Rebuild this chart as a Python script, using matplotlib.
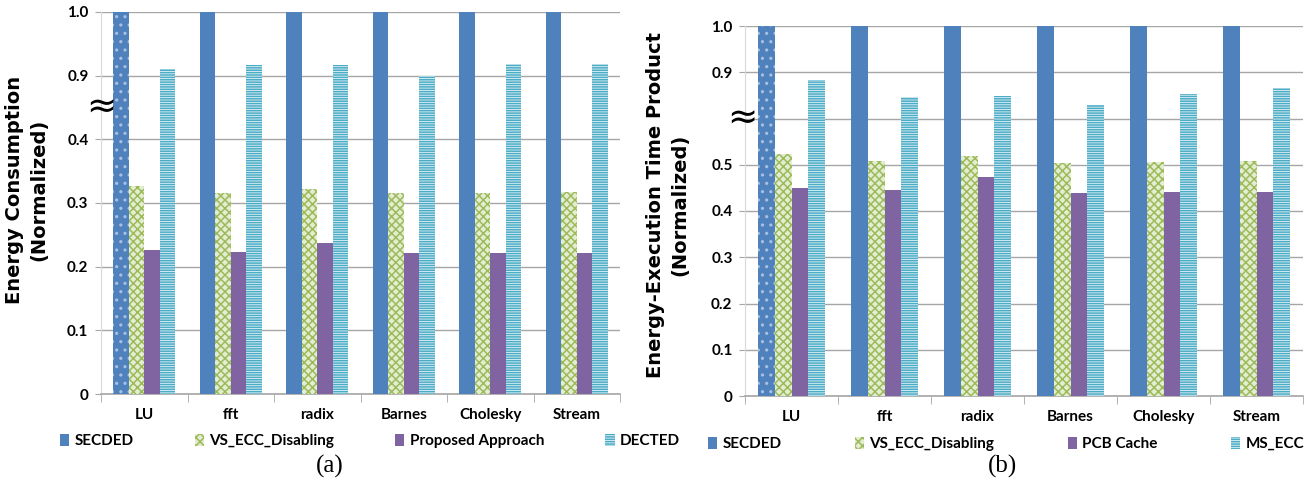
import numpy as np
import matplotlib
matplotlib.use("Agg")
import matplotlib.pyplot as plt
from matplotlib.patches import Patch

categories = ["LU", "fft", "radix", "Barnes", "Cholesky", "Stream"]

# Panel (a): Energy Consumption (Normalized)
a_secded = [1.0, 1.0, 1.0, 1.0, 1.0, 1.0]
a_vs_ecc = [0.326, 0.316, 0.322, 0.315, 0.316, 0.317]
a_proposed = [0.226, 0.223, 0.237, 0.221, 0.222, 0.222]
a_dected = [0.911, 0.916, 0.916, 0.900, 0.919, 0.919]
a_series_names = ["SECDED", "VS_ECC_Disabling", "Proposed Approach", "DECTED"]
a_yticks = [0, 0.1, 0.2, 0.3, 0.4, 0.9, 1.0]
a_yticklabels = ["0", "0.1", "0.2", "0.3", "0.4", "0.9", "1.0"]

# Panel (b): Energy-Execution Time Product (Normalized)
b_secded = [1.0, 1.0, 1.0, 1.0, 1.0, 1.0]
b_vs_ecc = [0.523, 0.508, 0.519, 0.504, 0.505, 0.508]
b_pcb = [0.450, 0.446, 0.473, 0.440, 0.442, 0.442]
b_ms_ecc = [0.883, 0.846, 0.849, 0.829, 0.853, 0.865]
b_series_names = ["SECDED", "VS_ECC_Disabling", "PCB Cache", "MS_ECC"]
b_yticks = [0, 0.1, 0.2, 0.3, 0.4, 0.5, 0.6, 0.9, 1.0]
b_yticklabels = ["0", "0.1", "0.2", "0.3", "0.4", "0.5", "", "0.9", "1.0"]

BLUE = "#4F81BD"
GREEN = "#9BBB59"
GREEN_FACE = "#e4edd2"
PURPLE = "#8064A2"
CYAN = "#4BACC6"
CYAN_FACE = "#e3f2f7"
GRID = "#a6a6a6"

plt.rcParams["hatch.linewidth"] = 1.1
FONT = "Lato"


def fwd_a(v):
    v = np.asarray(v, float)
    return np.where(v <= 0.4, v, np.where(v >= 0.8, v - 0.4, 0.4))


def inv_a(p):
    p = np.asarray(p, float)
    return np.where(p <= 0.4, p, p + 0.4)


def fwd_b(v):
    v = np.asarray(v, float)
    return np.where(v <= 0.6, v, np.where(v >= 0.8, v - 0.2, 0.6))


def inv_b(p):
    p = np.asarray(p, float)
    return np.where(p <= 0.6, p, p + 0.2)


fig = plt.figure(figsize=(13.07, 4.84), dpi=100)
ax_a = fig.add_axes([101 / 1307, 1 - 394 / 484, 519 / 1307, 382 / 484])
ax_b = fig.add_axes([745 / 1307, 1 - 396 / 484, 558 / 1307, 370 / 484])


def draw_panel(ax, series, fwd, inv, yticks, yticklabels):
    x = np.arange(len(categories))
    w = 0.18
    styles = [
        dict(facecolor=BLUE, edgecolor=BLUE, hatch=None),
        dict(facecolor=GREEN_FACE, edgecolor=GREEN, hatch="xxxx"),
        dict(facecolor=PURPLE, edgecolor=PURPLE, hatch=None),
        dict(facecolor=CYAN_FACE, edgecolor=CYAN, hatch="-------"),
    ]
    ax.set_yscale("function", functions=(fwd, inv))
    for i, (vals, st) in enumerate(zip(series, styles)):
        bars = ax.bar(x + (i - 1.5) * w, vals, width=w, facecolor=st["facecolor"],
                      edgecolor=st["edgecolor"], hatch=st["hatch"], linewidth=0,
                      zorder=3)
        if i == 0:
            bars.patches[0].set_hatch("..")
            bars.patches[0].set_edgecolor("#a9c0e2")
    ax.set_xlim(-0.5, len(categories) - 0.5)
    ax.set_ylim(0, 1.0)
    ax.set_yticks(yticks)
    ax.set_yticklabels(yticklabels, fontfamily=FONT, fontweight="bold", fontsize=11)
    ax.set_xticks(x)
    ax.set_xticklabels(categories, fontfamily=FONT, fontweight="bold", fontsize=11)
    ax.set_xticks(np.arange(-0.5, len(categories)), minor=True)
    ax.tick_params(axis="x", which="major", length=0, pad=10)
    ax.tick_params(axis="x", which="minor", length=6, color=GRID, direction="out")
    ax.tick_params(axis="y", length=4, color=GRID, pad=5)
    ax.yaxis.grid(True, color=GRID, linewidth=1.0, zorder=0)
    ax.set_axisbelow(True)
    for s in ["top", "right"]:
        ax.spines[s].set_visible(False)
    ax.spines["left"].set_color("#d9d9d9")
    ax.spines["bottom"].set_color(GRID)
    ax.spines["bottom"].set_linewidth(1.2)

    handles = [
        Patch(facecolor=BLUE, edgecolor=BLUE, linewidth=0),
        Patch(facecolor=GREEN_FACE, edgecolor=GREEN, hatch="xxxx", linewidth=0),
        Patch(facecolor=PURPLE, edgecolor=PURPLE, linewidth=0),
        Patch(facecolor=CYAN_FACE, edgecolor=CYAN, hatch="-------", linewidth=0),
    ]
    return handles


h_a = draw_panel(ax_a, [a_secded, a_vs_ecc, a_proposed, a_dected],
                 fwd_a, inv_a, a_yticks, a_yticklabels)
h_b = draw_panel(ax_b, [b_secded, b_vs_ecc, b_pcb, b_ms_ecc],
                 fwd_b, inv_b, b_yticks, b_yticklabels)

# break symbols
ax_a.text(0.0, 0.45 / 0.6, "\u2248", transform=ax_a.transAxes, ha="center", va="center",
          fontsize=26, family="DejaVu Sans", zorder=5)
ax_b.text(-0.005, 0.6 / 0.8, "\u2248", transform=ax_b.transAxes, ha="center", va="center",
          fontsize=26, family="DejaVu Sans", zorder=5)

legend_kw = dict(loc="center left", ncol=4, frameon=False, handlelength=0.6,
                 handleheight=0.8, handletextpad=0.35, borderpad=0, borderaxespad=0,
                 prop=dict(family=FONT, weight="bold", size=11))
fig.legend(h_a, a_series_names, bbox_to_anchor=(60 / 1307, 1 - 441 / 484),
           columnspacing=4.0, **legend_kw)
fig.legend(h_b, b_series_names, bbox_to_anchor=(708 / 1307, 1 - 444 / 484),
           columnspacing=4.8, **legend_kw)

fig.text(27 / 1307, 1 - 190 / 484, "Energy Consumption\n(Normalized)", rotation=90,
         ha="center", va="center", fontsize=14, fontweight="bold", family="DejaVu Sans",
         linespacing=1.35)
fig.text(668 / 1307, 1 - 205 / 484, "Energy-Execution Time Product\n(Normalized)",
         rotation=90, ha="center", va="center", fontsize=14, fontweight="bold",
         family="DejaVu Sans", linespacing=1.35)

fig.text(330 / 1307, 1 - 466 / 484, "(a)", ha="center", va="center", fontsize=18,
         family="Liberation Serif")
fig.text(1002 / 1307, 1 - 466 / 484, "(b)", ha="center", va="center", fontsize=18,
         family="Liberation Serif")

fig.savefig("out.png", dpi=100)
